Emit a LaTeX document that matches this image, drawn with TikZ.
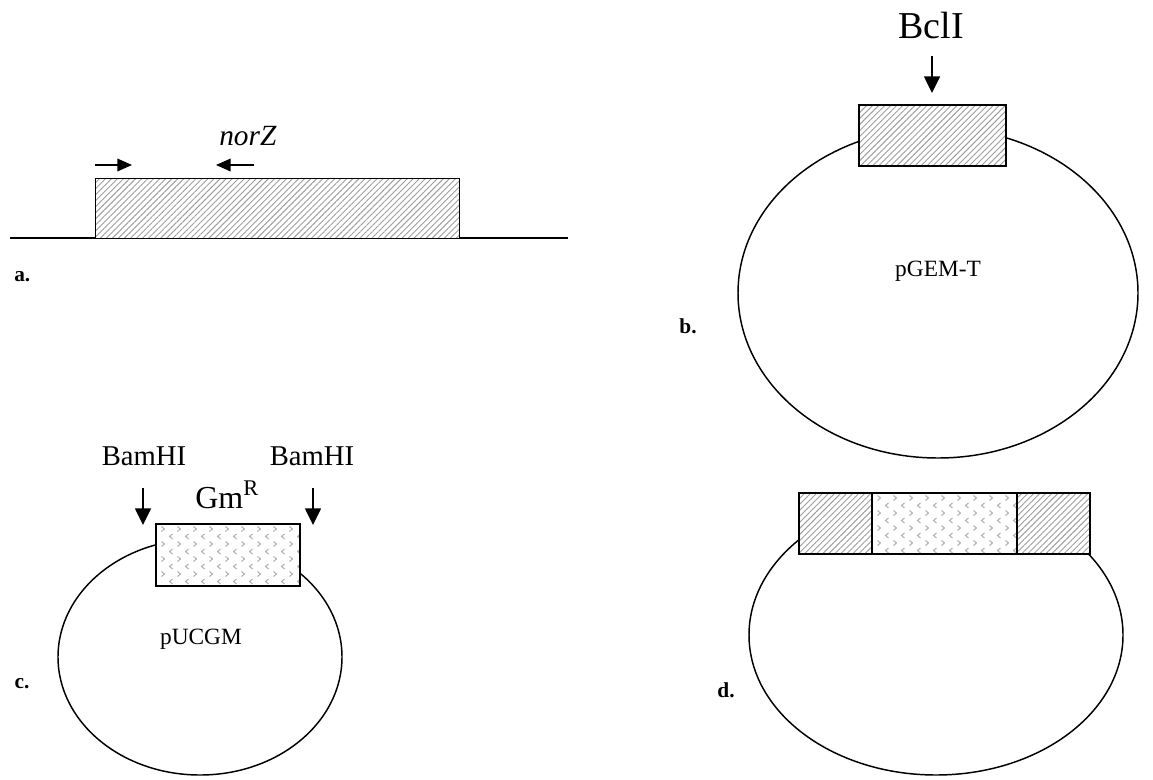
\documentclass[tikz,border=0pt]{standalone}
\usepackage{fontspec}
\setmainfont{Liberation Serif}
\usetikzlibrary{patterns,patterns.meta,arrows.meta}
\begin{document}
\begin{tikzpicture}[x=0.75pt,y=-0.75pt,
  cut/.style={line width=1.1pt,-{Triangle[length=12.5pt,width=12pt]}},
  primer/.style={line width=1.1pt,-{Triangle[length=11pt,width=9.5pt]}},
  hatchbox/.style={draw,line width=1.3pt,preaction={fill=white},
    pattern={Lines[angle=45,distance=3.2pt,line width=0.7pt]},pattern color=gray!75,
    anchor=north west,inner sep=0pt},
  gmbox/.style={draw,line width=1.3pt,anchor=north west,inner sep=0pt},
  plasmid/.style={draw,line width=1.1pt},
  lbl/.style={inner sep=0pt,font=\bfseries\fontsize{16}{18}\selectfont},
  big/.style={inner sep=0pt,font=\fontsize{28.5}{32}\selectfont},
  mid/.style={inner sep=0pt,font=\fontsize{21.5}{25}\selectfont},
  small/.style={inner sep=0pt,font=\fontsize{17.5}{21}\selectfont}]
\useasboundingbox (0,0) rectangle (1153,779);
% chevron filler
\newcommand{\gmfill}[4]{%
  \begin{scope}
  \clip (#1,#2) rectangle (#3,#4);
  \foreach \i in {0,...,12}{
    \foreach \j in {0,...,5}{
      \draw[gray!65,line width=0.7pt] ({#1+8+\i*16},{#2+6+\j*15}) ++(-1.5,-2.5) -- ++(3,2.5) -- ++(-3,2.5);
      \draw[gray!65,line width=0.7pt] ({#1+16+\i*16},{#2+13.5+\j*15}) ++(1.5,-2.5) -- ++(-3,2.5) -- ++(3,2.5);
    }}
  \end{scope}}
% ---------- panel a ----------
\coordinate (aL) at (10,238);
\coordinate (aR) at (568,238);
\draw[line width=1.1pt] (aL) -- (aR);
\node[hatchbox,minimum width=364*0.75pt,minimum height=60*0.75pt] (normz) at (95,178) {};
\coordinate (p1s) at (95,165); \coordinate (p1e) at (132,165);
\coordinate (p2s) at (254,165); \coordinate (p2e) at (216,165);
\draw[primer] (p1s) -- (p1e);
\draw[primer] (p2s) -- (p2e);
\node[inner sep=0pt,anchor=base west,font=\itshape\fontsize{22}{26}\selectfont] (norz) at (219,145) {norZ};
\node[lbl,anchor=base west] (la) at (14,281) {a.};
% ---------- panel b ----------
\draw[plasmid] (938,293) ellipse [x radius=200, y radius=165];
\node[hatchbox,minimum width=147*0.75pt,minimum height=61*0.75pt] (bins) at (858,104) {};
\node[big,anchor=base] (bcl) at (931,38) {BclI};
\coordinate (bclA) at (932,56);
\coordinate (bclB) at (932,93);
\draw[cut] (bclA) -- (bclB);
\node[small] (pgem) at (938,271) {pGEM-T};
\node[lbl] (lb) at (688,326) {b.};
% ---------- panel c ----------
\draw[plasmid] (200,657) ellipse [x radius=142, y radius=118];
\fill[white] (155,523) rectangle (299,585);
\gmfill{155}{523}{299}{585}
\node[gmbox,minimum width=144*0.75pt,minimum height=62*0.75pt] (gm) at (155,523) {};
\node[mid,anchor=base] (bam1) at (144,465) {BamHI};
\node[mid,anchor=base] (bam2) at (312,465) {BamHI};
\coordinate (c1s) at (143,488); \coordinate (c1e) at (143,525);
\coordinate (c2s) at (313,488); \coordinate (c2e) at (313,525);
\draw[cut] (c1s) -- (c1e);
\draw[cut] (c2s) -- (c2e);
\node[inner sep=0pt,anchor=base west,font=\fontsize{24}{28}\selectfont] (gmr) at (195,508) {Gm\textsuperscript{R}};
\node[small] (puc) at (201,639) {pUCGM};
\node[lbl] (lc) at (22,684) {c.};
% ---------- panel d ----------
\draw[plasmid] (936,635) ellipse [x radius=187, y radius=140];
\fill[white] (798,492) rectangle (1089,553);
\gmfill{871}{492}{1016}{553}
\node[hatchbox,minimum width=73*0.75pt,minimum height=61*0.75pt] (dl) at (798,492) {};
\node[gmbox,minimum width=145*0.75pt,minimum height=61*0.75pt] (dm) at (871,492) {};
\node[hatchbox,minimum width=73*0.75pt,minimum height=61*0.75pt] (dr) at (1016,492) {};
\node[lbl] (ld) at (726,690) {d.};
\end{tikzpicture}
\end{document}
